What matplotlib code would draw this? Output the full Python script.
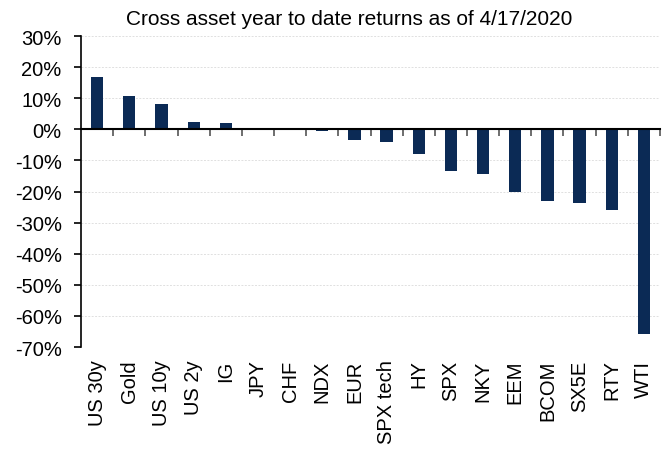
import numpy as np
import matplotlib
matplotlib.use('Agg')
import matplotlib.pyplot as plt
from matplotlib.ticker import FuncFormatter

plt.rcParams['font.family'] = ['Liberation Sans', 'DejaVu Sans']

# year to date returns, in percent
assets = ['US 30y', 'Gold', 'US 10y', 'US 2y', 'IG', 'JPY', 'CHF', 'NDX', 'EUR',
          'SPX tech', 'HY', 'SPX', 'NKY', 'EEM', 'BCOM', 'SX5E', 'RTY', 'WTI']
returns = [16.8, 10.7, 8.3, 2.4, 2.1, 0.1, -0.1, -0.5, -3.4,
           -4.2, -7.8, -13.5, -14.5, -20.0, -23.1, -23.8, -26.0, -65.7]

x = np.arange(len(assets))

fig = plt.figure(figsize=(6.7, 4.52), dpi=100)
ax = fig.add_axes([0.121, 0.230, 0.864, 0.688])

ax.bar(x, returns, width=0.38, color='#0b2a55', zorder=3)

ax.set_xlim(-0.5, len(assets) - 0.5)
ax.set_ylim(-70, 30)
ax.set_yticks(np.arange(-70, 31, 10))
ax.yaxis.set_major_formatter(FuncFormatter(lambda v, p: '%d%%' % v))
ax.grid(axis='y', color='#e0e0e0', linestyle=(0, (2, 1.5)), linewidth=0.7, zorder=0)

# category labels at the bottom, axis line with tick marks at zero
ax.set_xticks(x, assets)
ax.set_xticks(np.arange(0.5, len(assets), 1), minor=True)
ax.tick_params(axis='x', which='major', length=0, pad=9, bottom=True, top=False,
               labelsize=14.5, labelrotation=90)
ax.tick_params(axis='x', which='minor', bottom=False, top=True, direction='in',
               length=5, width=1.2, color='#555555')
ax.tick_params(axis='y', labelsize=14.5, length=5, width=1.2, pad=9)

ax.spines['top'].set_position(('data', 0))
ax.spines['top'].set_linewidth(1.5)
ax.spines['top'].set_zorder(4)
ax.spines['bottom'].set_visible(False)
ax.spines['right'].set_visible(False)
ax.spines['left'].set_linewidth(1.2)

fig.text(0.521, 0.957, 'Cross asset year to date returns as of 4/17/2020',
         ha='center', va='center', fontsize=15)

fig.savefig('out.png', dpi=100)
